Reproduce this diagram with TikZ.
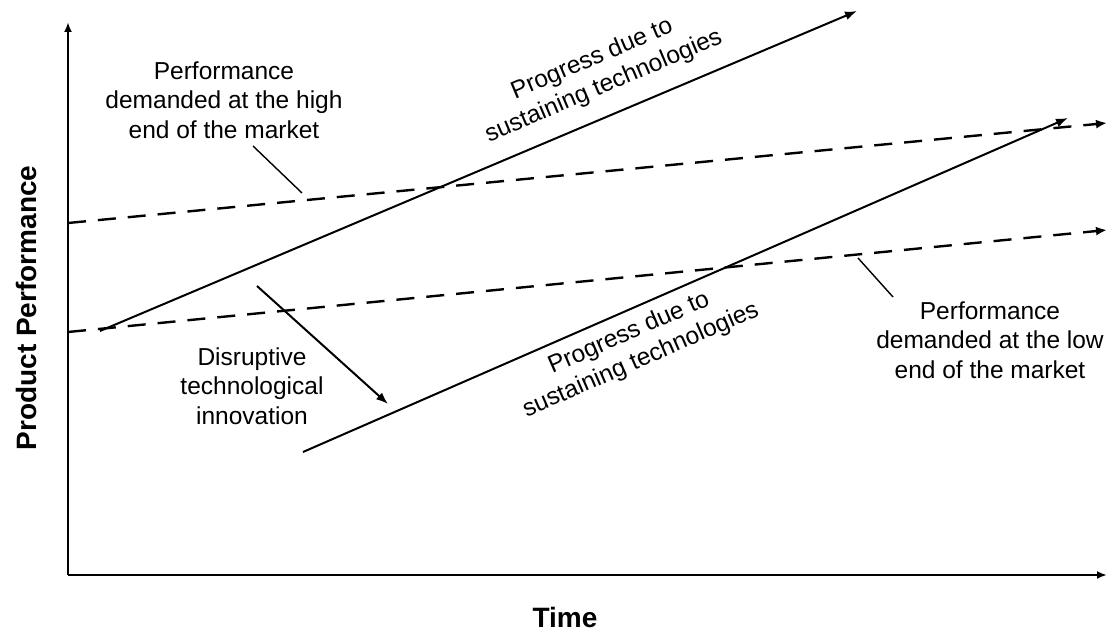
\documentclass[tikz,border=0pt]{standalone}
\usepackage{fontspec}
\setmainfont{Liberation Sans}
\usetikzlibrary{arrows.meta}
\begin{document}
\begin{tikzpicture}[x=0.5pt,y=-0.5pt,
  axis/.style={line width=1.4pt, -{Latex[length=5pt,width=4pt]}},
  trend/.style={line width=1pt, -{Latex[length=6pt,width=4.5pt]}},
  demand/.style={line width=1.2pt, dash pattern=on 9pt off 6pt, -{Latex[length=5.5pt,width=4.5pt]}},
  leader/.style={line width=0.7pt},
  lbl/.style={font=\fontsize{12.25pt}{14.75pt}\selectfont, align=center, inner sep=0pt},
  axlbl/.style={font=\fontsize{14pt}{16pt}\selectfont\bfseries, inner sep=0pt}]
\useasboundingbox (0,0) rectangle (1109,630);

% axes
\coordinate (origin) at (68,575);
\coordinate (ytop) at (68,22);
\coordinate (xend) at (1107,575);
\draw[axis] (origin) -- (ytop);
\draw[axis] (origin) -- (xend);
\node[axlbl, rotate=90] (ylab) at (26,308) {Product Performance};
\node[axlbl] (xlab) at (565,617) {Time};

% demanded performance trajectories
\coordinate (hiA) at (68,223);
\coordinate (hiB) at (1107,123);
\coordinate (loA) at (68,332);
\coordinate (loB) at (1107,230);
\draw[demand] (hiA) -- (hiB);
\draw[demand] (loA) -- (loB);

% sustaining technology trajectories
\coordinate (upA) at (100,331);
\coordinate (upB) at (857,11);
\coordinate (dnA) at (303,452);
\coordinate (dnB) at (1068,118);
\draw[trend] (upA) -- (upB);
\draw[trend] (dnA) -- (dnB);

% labels
\node[lbl] (hilab) at (224,100) {Performance\\demanded at the high\\end of the market};
\node[lbl] (lolab) at (990,340) {Performance\\demanded at the low\\end of the market};
\node[lbl] (dislab) at (252,386) {Disruptive\\technological\\innovation};
\node[lbl, rotate=23] (uplab) at (598,73) {Progress due to\\sustaining technologies};
\node[lbl, rotate=23.6] (dnlab) at (635,347) {Progress due to\\sustaining technologies};

% leader lines and the disruptive jump
\coordinate (hiL1) at (253,146);
\coordinate (hiL2) at (302,193);
\coordinate (loL1) at (858,258);
\coordinate (loL2) at (893,297);
\draw[leader] (hiL1) -- (hiL2);
\draw[leader] (loL1) -- (loL2);
\coordinate (jumpA) at (257,286);
\coordinate (jumpB) at (388,404);
\draw[trend] (jumpA) -- (jumpB);
\end{tikzpicture}
\end{document}
